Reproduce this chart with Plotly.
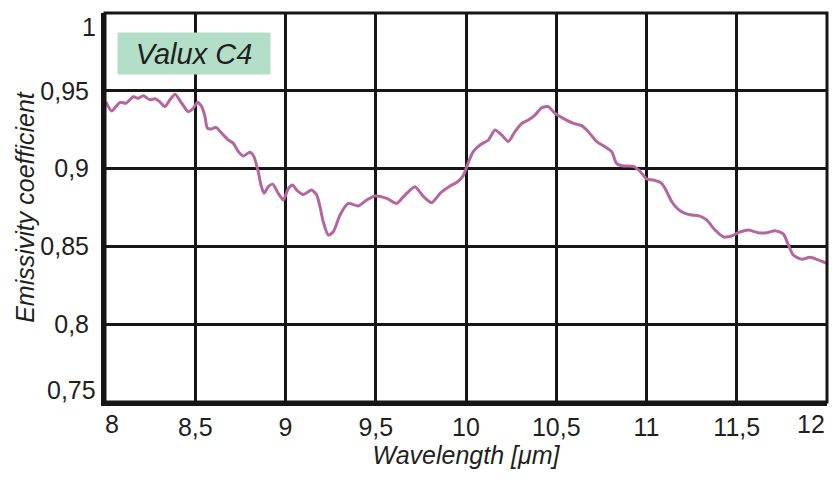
import plotly.graph_objects as go

wavelength = [8.005, 8.037, 8.083, 8.116, 8.157, 8.185, 8.212, 8.249, 8.277, 8.301,
              8.332, 8.360, 8.388, 8.425, 8.461, 8.489, 8.513, 8.536, 8.554, 8.567,
              8.591, 8.615, 8.647, 8.683, 8.711, 8.739, 8.766, 8.803, 8.825, 8.849,
              8.864, 8.881, 8.905, 8.929, 8.960, 8.988, 9.016, 9.040, 9.062, 9.099,
              9.145, 9.173, 9.191, 9.209, 9.237, 9.265, 9.302, 9.348, 9.403, 9.450,
              9.496, 9.561, 9.616, 9.662, 9.717, 9.763, 9.810, 9.860, 9.921, 9.950,
              9.985, 10.013, 10.040, 10.078, 10.124, 10.161, 10.198, 10.234, 10.271, 10.309,
              10.345, 10.382, 10.419, 10.456, 10.493, 10.539, 10.595, 10.641, 10.678, 10.724,
              10.770, 10.807, 10.834, 10.871, 10.927, 10.964, 11.001, 11.038, 11.084, 11.112,
              11.140, 11.176, 11.213, 11.250, 11.296, 11.333, 11.380, 11.425, 11.472, 11.509,
              11.564, 11.619, 11.666, 11.712, 11.758, 11.786, 11.813, 11.860, 11.906, 11.952,
              11.998]
emissivity = [0.9428, 0.9370, 0.9426, 0.9420, 0.9462, 0.9452, 0.9468, 0.9442, 0.9449, 0.9432,
              0.9398, 0.9442, 0.9478, 0.9420, 0.9366, 0.9388, 0.9426, 0.9398, 0.9334, 0.9260,
              0.9255, 0.9265, 0.9227, 0.9184, 0.9162, 0.9109, 0.9081, 0.9105, 0.9077, 0.8980,
              0.8895, 0.8841, 0.8884, 0.8900, 0.8841, 0.8798, 0.8873, 0.8895, 0.8862, 0.8834,
              0.8862, 0.8830, 0.8755, 0.8659, 0.8573, 0.8594, 0.8702, 0.8776, 0.8760, 0.8798,
              0.8824, 0.8809, 0.8776, 0.8830, 0.8884, 0.8822, 0.8781, 0.8845, 0.8895, 0.8912,
              0.8955, 0.9040, 0.9109, 0.9152, 0.9184, 0.9248, 0.9216, 0.9173, 0.9237, 0.9291,
              0.9312, 0.9344, 0.9391, 0.9398, 0.9355, 0.9323, 0.9291, 0.9276, 0.9237, 0.9173,
              0.9141, 0.9109, 0.9034, 0.9017, 0.9014, 0.8983, 0.8933, 0.8927, 0.8905, 0.8852,
              0.8787, 0.8738, 0.8712, 0.8702, 0.8695, 0.8670, 0.8605, 0.8562, 0.8567, 0.8588,
              0.8605, 0.8588, 0.8588, 0.8601, 0.8580, 0.8509, 0.8445, 0.8417, 0.8430, 0.8413,
              0.8391]

x_ticks = [8, 8.5, 9, 9.5, 10, 10.5, 11, 11.5, 12]
x_tick_labels = ["8", "8,5", "9", "9,5", "10", "10,5", "11", "11,5", "12"]
y_ticks = [0.75, 0.8, 0.85, 0.9, 0.95, 1.0]
y_tick_labels = ["0,75", "0,8", "0,85", "0,9", "0,95", "1"]

FONT = "Liberation Sans, Arial, sans-serif"
TXT = "#231f20"
GRID = "#161616"
FS = 25

fig = go.Figure()
fig.add_trace(go.Scatter(
    x=wavelength, y=emissivity, mode="lines",
    line=dict(color="#b5669f", width=3, shape="spline", smoothing=0.6),
    showlegend=False, hoverinfo="skip"))

fig.update_layout(
    width=832, height=478,
    margin=dict(l=105, r=5, t=13, b=76, autoexpand=False),
    paper_bgcolor="white", plot_bgcolor="white",
    font=dict(family=FONT, color=TXT, size=FS),
    xaxis=dict(range=[8, 12], tickmode="array", automargin=False,
               tickvals=x_ticks[1:-1], ticktext=x_tick_labels[1:-1],
               showgrid=True, gridcolor=GRID, gridwidth=3,
               showline=True, linecolor=GRID, linewidth=4, mirror=False,
               zeroline=False, ticks="", ticklabelstandoff=0,
               tickfont=dict(size=FS, family=FONT, color=TXT),
               title=dict(text="<i>Wavelength [μm]</i>", standoff=4,
                          font=dict(size=FS, family=FONT, color=TXT))),
    yaxis=dict(range=[0.75, 1.0], tickmode="array", automargin=False,
               tickvals=y_ticks[1:-1], ticktext=y_tick_labels[1:-1],
               showgrid=True, gridcolor=GRID, gridwidth=3,
               showline=True, linecolor=GRID, linewidth=4, mirror=False,
               zeroline=False, ticks="", ticklabelstandoff=7,
               tickfont=dict(size=FS, family=FONT, color=TXT),
               title=dict(text="<i>Emissivity coefficient</i>", standoff=0,
                          font=dict(size=FS, family=FONT, color=TXT))),
)

# frame (top / right)
fig.add_shape(type="rect", xref="x domain", yref="y domain", x0=0, x1=1, y0=0, y1=1,
              line=dict(color=GRID, width=3), layer="above")

# end tick labels kept inside the frame
fig.add_annotation(x=x_ticks[0], y=0, xref="x", yref="paper", text=x_tick_labels[0],
                   showarrow=False, xanchor="left", yanchor="top", yshift=-6, xshift=-2,
                   font=dict(size=FS, family=FONT, color=TXT))
fig.add_annotation(x=x_ticks[-1], y=0, xref="x", yref="paper", text=x_tick_labels[-1],
                   showarrow=False, xanchor="right", yanchor="top", yshift=-6, xshift=0,
                   font=dict(size=FS, family=FONT, color=TXT))
fig.add_annotation(x=0, y=y_ticks[0], xref="paper", yref="y", text=y_tick_labels[0],
                   showarrow=False, xanchor="right", yanchor="bottom", xshift=-7, yshift=-4,
                   font=dict(size=FS, family=FONT, color=TXT))
fig.add_annotation(x=0, y=y_ticks[-1], xref="paper", yref="y", text=y_tick_labels[-1],
                   showarrow=False, xanchor="right", yanchor="top", xshift=-7, yshift=2,
                   font=dict(size=FS, family=FONT, color=TXT))

# sample label box
fig.add_annotation(x=0.0166, y=0.951, xref="paper", yref="paper", text="<i>Valux C4</i>",
                   showarrow=False, xanchor="left", yanchor="top",
                   bgcolor="#b3dfc8", borderpad=6, width=140, height=29,
                   font=dict(size=29, family=FONT, color=TXT))

fig.write_html("out.html", config={"displayModeBar": False},
               post_script="document.body.style.margin='0';document.body.style.overflow='hidden';")
